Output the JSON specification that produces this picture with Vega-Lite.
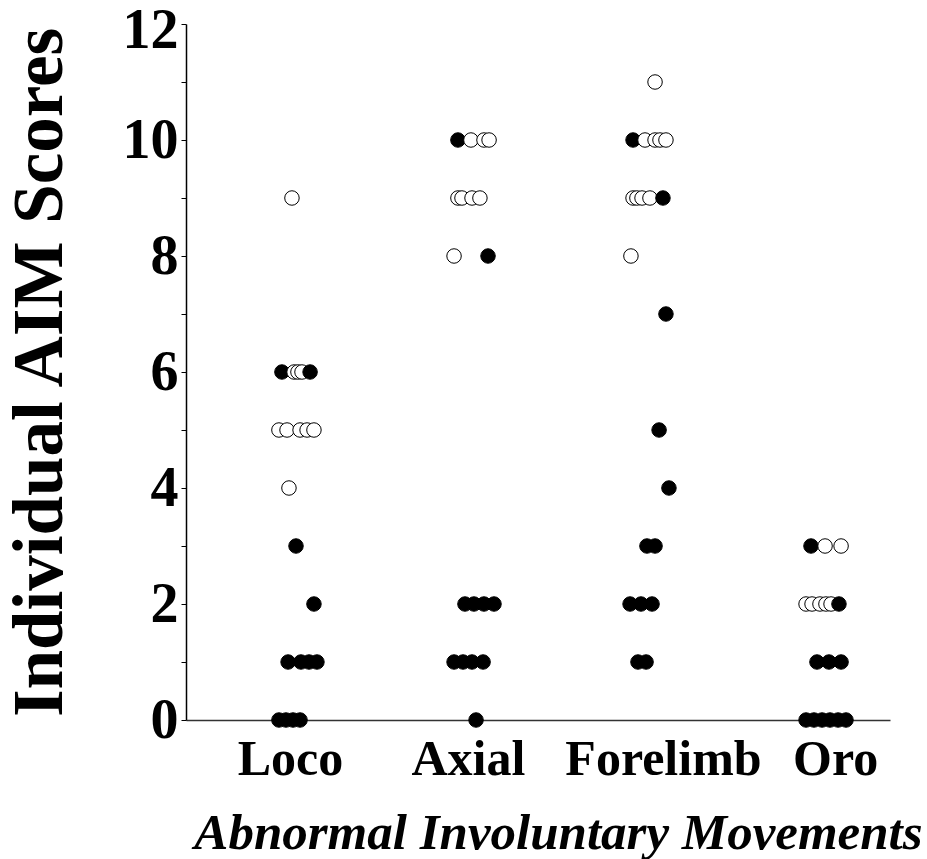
{
  "$schema": "https://vega.github.io/schema/vega-lite/v6.json",
  "autosize": "none",
  "padding": {"left": 186, "top": 24, "right": 37, "bottom": 139},
  "width": 704,
  "height": 696,
  "background": "white",
  "config": {"view": {"stroke": null}},
  "data": {"values": [
    {"aim": "Loco", "pos": 0.602, "score": 9, "type": "open"},
    {"aim": "Loco", "pos": 0.545, "score": 6, "type": "filled"},
    {"aim": "Loco", "pos": 0.614, "score": 6, "type": "open"},
    {"aim": "Loco", "pos": 0.636, "score": 6, "type": "open"},
    {"aim": "Loco", "pos": 0.659, "score": 6, "type": "open"},
    {"aim": "Loco", "pos": 0.705, "score": 6, "type": "filled"},
    {"aim": "Loco", "pos": 0.528, "score": 5, "type": "open"},
    {"aim": "Loco", "pos": 0.574, "score": 5, "type": "open"},
    {"aim": "Loco", "pos": 0.648, "score": 5, "type": "open"},
    {"aim": "Loco", "pos": 0.688, "score": 5, "type": "open"},
    {"aim": "Loco", "pos": 0.727, "score": 5, "type": "open"},
    {"aim": "Loco", "pos": 0.585, "score": 4, "type": "open"},
    {"aim": "Loco", "pos": 0.625, "score": 3, "type": "filled"},
    {"aim": "Loco", "pos": 0.727, "score": 2, "type": "filled"},
    {"aim": "Loco", "pos": 0.580, "score": 1, "type": "filled"},
    {"aim": "Loco", "pos": 0.653, "score": 1, "type": "filled"},
    {"aim": "Loco", "pos": 0.699, "score": 1, "type": "filled"},
    {"aim": "Loco", "pos": 0.744, "score": 1, "type": "filled"},
    {"aim": "Loco", "pos": 0.528, "score": 0, "type": "filled"},
    {"aim": "Loco", "pos": 0.568, "score": 0, "type": "filled"},
    {"aim": "Loco", "pos": 0.608, "score": 0, "type": "filled"},
    {"aim": "Loco", "pos": 0.648, "score": 0, "type": "filled"},
    {"aim": "Axial", "pos": 1.545, "score": 10, "type": "filled"},
    {"aim": "Axial", "pos": 1.619, "score": 10, "type": "open"},
    {"aim": "Axial", "pos": 1.693, "score": 10, "type": "open"},
    {"aim": "Axial", "pos": 1.722, "score": 10, "type": "open"},
    {"aim": "Axial", "pos": 1.545, "score": 9, "type": "open"},
    {"aim": "Axial", "pos": 1.568, "score": 9, "type": "open"},
    {"aim": "Axial", "pos": 1.625, "score": 9, "type": "open"},
    {"aim": "Axial", "pos": 1.670, "score": 9, "type": "open"},
    {"aim": "Axial", "pos": 1.523, "score": 8, "type": "open"},
    {"aim": "Axial", "pos": 1.716, "score": 8, "type": "filled"},
    {"aim": "Axial", "pos": 1.585, "score": 2, "type": "filled"},
    {"aim": "Axial", "pos": 1.636, "score": 2, "type": "filled"},
    {"aim": "Axial", "pos": 1.693, "score": 2, "type": "filled"},
    {"aim": "Axial", "pos": 1.750, "score": 2, "type": "filled"},
    {"aim": "Axial", "pos": 1.523, "score": 1, "type": "filled"},
    {"aim": "Axial", "pos": 1.574, "score": 1, "type": "filled"},
    {"aim": "Axial", "pos": 1.625, "score": 1, "type": "filled"},
    {"aim": "Axial", "pos": 1.688, "score": 1, "type": "filled"},
    {"aim": "Axial", "pos": 1.648, "score": 0, "type": "filled"},
    {"aim": "Forelimb", "pos": 2.665, "score": 11, "type": "open"},
    {"aim": "Forelimb", "pos": 2.540, "score": 10, "type": "filled"},
    {"aim": "Forelimb", "pos": 2.608, "score": 10, "type": "open"},
    {"aim": "Forelimb", "pos": 2.665, "score": 10, "type": "open"},
    {"aim": "Forelimb", "pos": 2.693, "score": 10, "type": "open"},
    {"aim": "Forelimb", "pos": 2.727, "score": 10, "type": "open"},
    {"aim": "Forelimb", "pos": 2.540, "score": 9, "type": "open"},
    {"aim": "Forelimb", "pos": 2.562, "score": 9, "type": "open"},
    {"aim": "Forelimb", "pos": 2.591, "score": 9, "type": "open"},
    {"aim": "Forelimb", "pos": 2.636, "score": 9, "type": "open"},
    {"aim": "Forelimb", "pos": 2.710, "score": 9, "type": "filled"},
    {"aim": "Forelimb", "pos": 2.528, "score": 8, "type": "open"},
    {"aim": "Forelimb", "pos": 2.727, "score": 7, "type": "filled"},
    {"aim": "Forelimb", "pos": 2.688, "score": 5, "type": "filled"},
    {"aim": "Forelimb", "pos": 2.744, "score": 4, "type": "filled"},
    {"aim": "Forelimb", "pos": 2.619, "score": 3, "type": "filled"},
    {"aim": "Forelimb", "pos": 2.665, "score": 3, "type": "filled"},
    {"aim": "Forelimb", "pos": 2.523, "score": 2, "type": "filled"},
    {"aim": "Forelimb", "pos": 2.585, "score": 2, "type": "filled"},
    {"aim": "Forelimb", "pos": 2.648, "score": 2, "type": "filled"},
    {"aim": "Forelimb", "pos": 2.568, "score": 1, "type": "filled"},
    {"aim": "Forelimb", "pos": 2.614, "score": 1, "type": "filled"},
    {"aim": "Oro", "pos": 3.551, "score": 3, "type": "filled"},
    {"aim": "Oro", "pos": 3.631, "score": 3, "type": "open"},
    {"aim": "Oro", "pos": 3.722, "score": 3, "type": "open"},
    {"aim": "Oro", "pos": 3.523, "score": 2, "type": "open"},
    {"aim": "Oro", "pos": 3.557, "score": 2, "type": "open"},
    {"aim": "Oro", "pos": 3.602, "score": 2, "type": "open"},
    {"aim": "Oro", "pos": 3.636, "score": 2, "type": "open"},
    {"aim": "Oro", "pos": 3.665, "score": 2, "type": "open"},
    {"aim": "Oro", "pos": 3.710, "score": 2, "type": "filled"},
    {"aim": "Oro", "pos": 3.585, "score": 1, "type": "filled"},
    {"aim": "Oro", "pos": 3.653, "score": 1, "type": "filled"},
    {"aim": "Oro", "pos": 3.722, "score": 1, "type": "filled"},
    {"aim": "Oro", "pos": 3.523, "score": 0, "type": "filled"},
    {"aim": "Oro", "pos": 3.568, "score": 0, "type": "filled"},
    {"aim": "Oro", "pos": 3.614, "score": 0, "type": "filled"},
    {"aim": "Oro", "pos": 3.659, "score": 0, "type": "filled"},
    {"aim": "Oro", "pos": 3.705, "score": 0, "type": "filled"},
    {"aim": "Oro", "pos": 3.750, "score": 0, "type": "filled"}
  ]},
  "mark": {"type": "point", "filled": true, "stroke": "black", "strokeWidth": 1, "opacity": 1, "size": 210},
  "encoding": {
    "x": {
      "field": "pos", "type": "quantitative",
      "scale": {"domain": [0, 4], "nice": false, "zero": false},
      "axis": {
        "title": "Abnormal Involuntary Movements",
        "values": [0.591, 1.602, 2.71, 3.688],
        "labelExpr": "datum.value < 1 ? 'Loco' : datum.value < 2 ? 'Axial' : datum.value < 3 ? 'Forelimb' : 'Oro'",
        "ticks": false, "grid": false,
        "domainColor": "#333333", "domainWidth": 1.5,
        "labelFont": "Liberation Serif", "labelFontWeight": "bold", "labelFontSize": 50,
        "labelColor": "black", "labelPadding": 14, "labelFlush": false, "labelOverlap": false,
        "labelLimit": 0,
        "titleFont": "Liberation Serif", "titleFontWeight": "bold", "titleFontStyle": "italic",
        "titleFontSize": 51, "titleColor": "black",
        "titleX": 372, "titleY": 128, "titleBaseline": "alphabetic", "titleAlign": "center"
      }
    },
    "y": {
      "field": "score", "type": "quantitative",
      "scale": {"domain": [0, 12], "nice": false},
      "axis": {
        "title": "Individual AIM Scores",
        "values": [0, 1, 2, 3, 4, 5, 6, 7, 8, 9, 10, 11, 12],
        "labelExpr": "datum.value % 2 == 0 ? datum.label : ''",
        "grid": false, "tickSize": 5, "tickColor": "black", "tickWidth": 1,
        "domainColor": "black", "domainWidth": 1.5,
        "labelFont": "Liberation Serif", "labelFontWeight": "bold", "labelFontSize": 56,
        "labelColor": "black", "labelPadding": 3, "labelOverlap": false, "labelLimit": 0,
        "labelOffset": {"condition": {"test": "datum.value == 12", "value": 6}, "value": 0},
        "titleFont": "Liberation Serif", "titleFontWeight": "bold", "titleFontSize": 71,
        "titleColor": "black", "titleX": -125, "titleY": 348, "titleAngle": -90,
        "titleBaseline": "alphabetic", "titleAlign": "center"
      }
    },
    "fill": {
      "field": "type", "type": "nominal",
      "scale": {"domain": ["open", "filled"], "range": ["white", "black"]},
      "legend": null
    }
  }
}
